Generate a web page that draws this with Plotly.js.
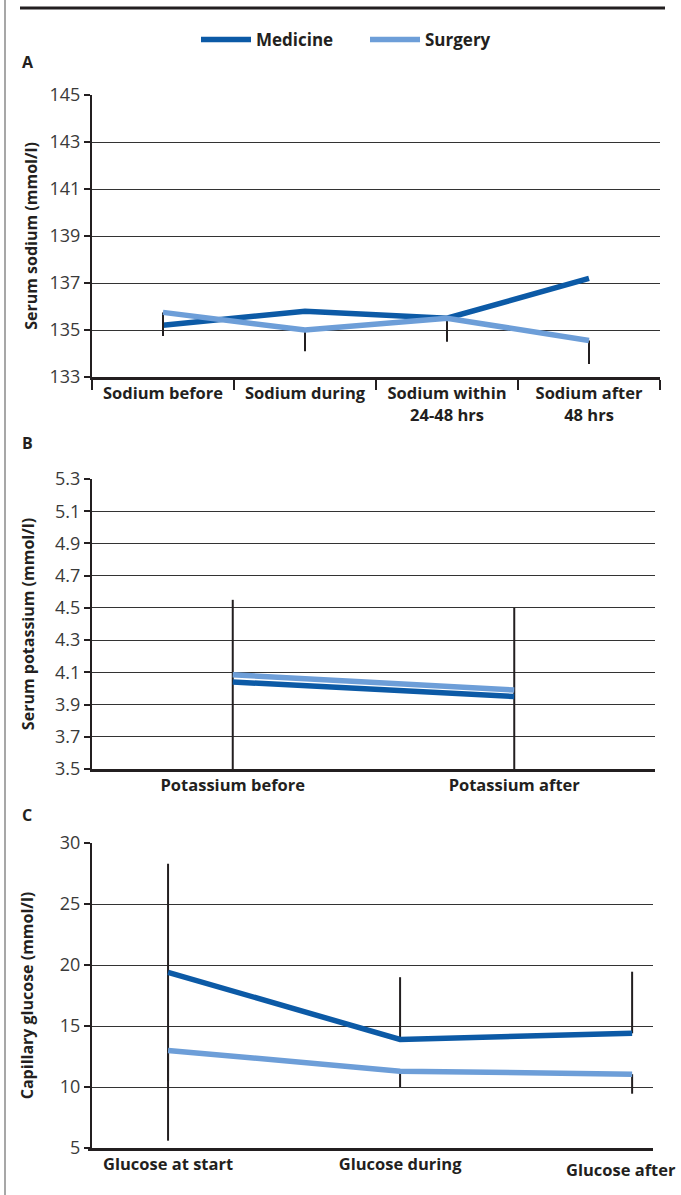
<!DOCTYPE html>
<html>
<head>
<meta charset="utf-8">
<script src="https://cdn.plot.ly/plotly-3.0.1.min.js"></script>
<style>html,body{margin:0;padding:0;background:#fff}#chart{width:681px;height:1195px}</style>
</head>
<body>
<div id="chart"></div>
<script>
// ---- Panel A: sodium ----
const sodiumCats = ["Sodium before", "Sodium during", "Sodium within<br>24-48 hrs", "Sodium after<br>48 hrs"];
const sodiumMedicine = [135.2, 135.8, 135.5, 137.2];
const sodiumSurgery = [135.75, 135.0, 135.5, 134.55];
const sodiumSurgeryErrMinus = [1.0, 0.9, 1.0, 1.0];

// ---- Panel B: potassium ----
const potassiumCats = ["Potassium before", "Potassium after"];
const potassiumMedicine = [4.04, 3.95];
const potassiumSurgery = [4.085, 3.99];
const potassiumMedicineErrPlus = [0.51, 0.55];
const potassiumMedicineErrMinus = [0.55, 0.55];

// ---- Panel C: glucose ----
const glucoseCats = ["Glucose at start", "Glucose during", "Glucose after"];
const glucoseMedicine = [19.4, 13.9, 14.4];
const glucoseSurgery = [13.0, 11.3, 11.05];
const glucoseMedicineErrPlus = [8.9, 5.1, 5.05];
const glucoseMedicineErrMinus = [8.9, 0, 0];
const glucoseSurgeryErrMinus = [7.4, 1.3, 1.6];

const seriesNames = ["Medicine", "Surgery"];
const MED = "#0c5aa6", SUR = "#6d9ed8", INK = "#231f20";
const W = 681, H = 1195;
const LW = 5.5;

function errStyle(plus, minus){
  return {type:"data", symmetric:false, array:plus, arrayminus:minus,
          color:INK, thickness:2, width:0, visible:true};
}
const zeros = n => new Array(n).fill(0);

const traces = [
  {x:sodiumCats, y:sodiumMedicine, name:seriesNames[0], type:"scatter", mode:"lines",
   line:{color:MED, width:LW}, xaxis:"x", yaxis:"y", legendgroup:"m"},
  {x:sodiumCats, y:sodiumSurgery, name:seriesNames[1], type:"scatter", mode:"lines",
   line:{color:SUR, width:LW}, xaxis:"x", yaxis:"y", legendgroup:"s",
   error_y:errStyle(zeros(4), sodiumSurgeryErrMinus)},

  {x:potassiumCats, y:potassiumMedicine, name:seriesNames[0], type:"scatter", mode:"lines",
   line:{color:MED, width:LW}, xaxis:"x2", yaxis:"y2", showlegend:false,
   error_y:errStyle(potassiumMedicineErrPlus, potassiumMedicineErrMinus)},
  {x:potassiumCats, y:potassiumSurgery, name:seriesNames[1], type:"scatter", mode:"lines",
   line:{color:SUR, width:LW}, xaxis:"x2", yaxis:"y2", showlegend:false},

  {x:glucoseCats, y:glucoseMedicine, name:seriesNames[0], type:"scatter", mode:"lines",
   line:{color:MED, width:LW}, xaxis:"x3", yaxis:"y3", showlegend:false,
   error_y:errStyle(glucoseMedicineErrPlus, glucoseMedicineErrMinus)},
  {x:glucoseCats, y:glucoseSurgery, name:seriesNames[1], type:"scatter", mode:"lines",
   line:{color:SUR, width:LW}, xaxis:"x3", yaxis:"y3", showlegend:false,
   error_y:errStyle(zeros(3), glucoseSurgeryErrMinus)}
];

const FONT = "Open Sans, Noto Sans, sans-serif";
const tickFontNum = {family:FONT, size:18, color:"#3a3a3a"};
const tickFontCat = {family:FONT, size:16.5, color:INK, weight:"bold"};
const titleFont = {family:FONT, size:16, color:INK, weight:"bold"};

function px(a,b){return [a/W, b/W];}
function py(top,bottom){return [(H-bottom)/H, (H-top)/H];}

function yax(range, dtick, title, dom, standoff){
  return {domain:dom, range:range, dtick:dtick, tick0:range[0], autorange:false,
    ticks:"outside", ticklen:6, tickwidth:2, tickcolor:INK,
    showline:true, linewidth:2, linecolor:INK,
    showgrid:true, gridcolor:"#333", gridwidth:1, zeroline:false,
    tickfont:tickFontNum, title:{text:title, font:titleFont, standoff:standoff},
    automargin:false, fixedrange:true};
}

const lastIdx = glucoseCats.length - 1;
const letterFont = {family:FONT, size:16, color:INK, weight:"bold"};

const layout = {
  width:W, height:H, margin:{l:0, r:0, t:0, b:0},
  paper_bgcolor:"#fff", plot_bgcolor:"#fff",
  font:{family:FONT, color:INK},
  showlegend:true,
  legend:{orientation:"h", x:(204-8)/W, xanchor:"left", y:(H-40)/H, yanchor:"middle",
    font:{family:FONT, size:17, color:INK, weight:"bold"}, itemwidth:50,
    entrywidth:104, entrywidthmode:"pixels",
    bgcolor:"rgba(0,0,0,0)"},
  xaxis:{domain:px(92,660), anchor:"y", type:"category", range:[-0.5,3.5],
    tickson:"boundaries", ticks:"outside", ticklen:10, tickwidth:2, tickcolor:INK,
    showline:true, linewidth:2.5, linecolor:INK, showgrid:false, zeroline:false,
    tickfont:tickFontCat, automargin:false, fixedrange:true},
  yaxis:yax([133,145], 2, "Serum sodium (mmol/l)", py(95,377), 8),

  xaxis2:{domain:px(92,655), anchor:"y2", type:"category", range:[-0.5,1.5],
    ticks:"", showline:true, linewidth:2.5, linecolor:INK, showgrid:false, zeroline:false,
    tickfont:tickFontCat, automargin:false, fixedrange:true},
  yaxis2:Object.assign(yax([3.5,5.3], 0.2, "Serum potassium (mmol/l)", py(479,769), 16), {tickformat:".1f"}),

  xaxis3:{domain:px(88,653), anchor:"y3", type:"category", range:[-0.345,2.09],
    tickmode:"array", tickvals:glucoseCats.slice(0, lastIdx), ticktext:glucoseCats.slice(0, lastIdx),
    ticks:"", showline:true, linewidth:2.5, linecolor:INK, showgrid:false, zeroline:false,
    tickfont:tickFontCat, automargin:false, fixedrange:true},
  yaxis3:yax([5,30], 5, "Capillary glucose (mmol/l)", py(843,1148), 22),

  annotations:[
    {text:"A", xref:"paper", yref:"paper", x:20/W, y:(H-62)/H, xanchor:"left", yanchor:"middle",
     showarrow:false, font:letterFont},
    {text:"B", xref:"paper", yref:"paper", x:20/W, y:(H-443)/H, xanchor:"left", yanchor:"middle",
     showarrow:false, font:letterFont},
    {text:"C", xref:"paper", yref:"paper", x:20/W, y:(H-815)/H, xanchor:"left", yanchor:"middle",
     showarrow:false, font:letterFont},
    // last category label of panel C, nudged left/down so it stays on the page
    {text:glucoseCats[lastIdx], xref:"x3", yref:"y3 domain", x:glucoseCats[lastIdx], y:0,
     xanchor:"center", yanchor:"top", xshift:-11, yshift:-8, showarrow:false, font:tickFontCat}
  ],
  shapes:[
    {type:"line", xref:"paper", yref:"paper", x0:20/W, x1:665/W, y0:(H-8)/H, y1:(H-8)/H,
     line:{color:INK, width:3}},
    {type:"line", xref:"paper", yref:"paper", x0:5/W, x1:5/W, y0:0, y1:1,
     line:{color:"#8a8a8a", width:1.5}}
  ]
};

Plotly.newPlot("chart", traces, layout, {staticPlot:true, displayModeBar:false});
</script>
</body>
</html>
